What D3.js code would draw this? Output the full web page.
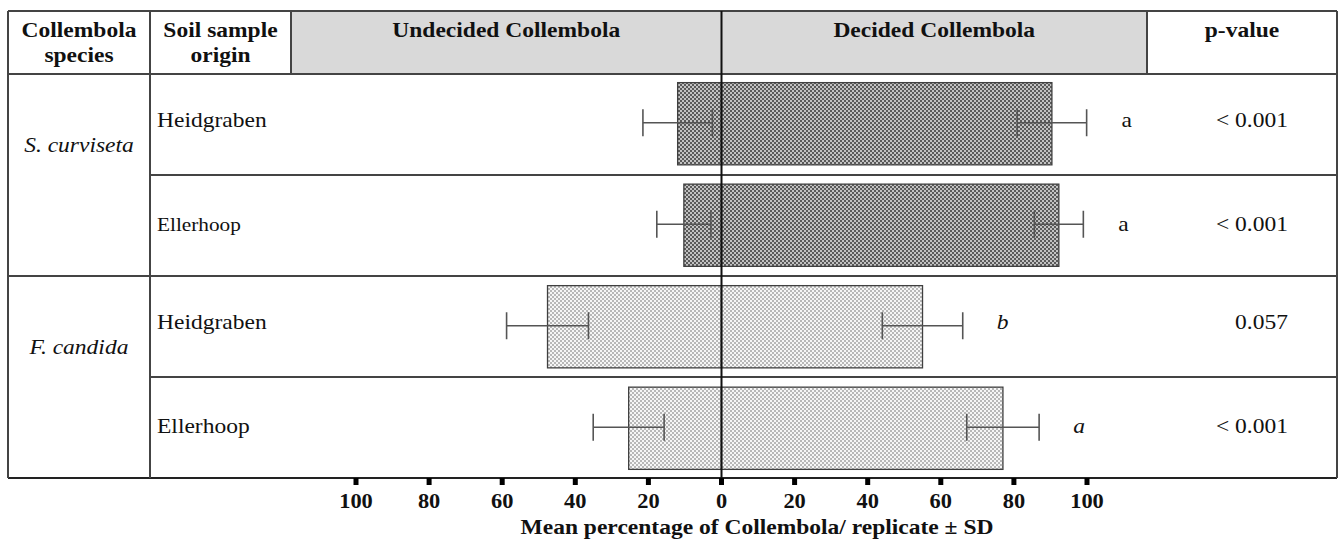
<!DOCTYPE html>
<html>
<head>
<meta charset="utf-8">
<script src="https://cdn.jsdelivr.net/npm/d3@7"></script>
<style>
  html, body { margin: 0; padding: 0; background: #fff; }
  svg { display: block; }
</style>
</head>
<body>
<svg id="chart" width="1338" height="540"></svg>
<script>
// ---------- data ----------
const species = ["S. curviseta", "F. candida"];
const origins = ["Heidgraben", "Ellerhoop", "Heidgraben", "Ellerhoop"];
const rowSpecies = [0, 0, 1, 1];
const undecided = [12.0, 10.3, 47.6, 25.4];
const undecidedSD = [9.5, 7.4, 11.2, 9.7];
const decided = [90.4, 92.3, 55.0, 77.0];
const decidedSD = [9.5, 6.7, 11.0, 9.9];
const letters = ["a", "a", "b", "a"];
const letterItalic = [false, false, true, true];
const pValues = ["< 0.001", "< 0.001", "0.057", "< 0.001"];
const tickValues = [-100, -80, -60, -40, -20, 0, 20, 40, 60, 80, 100];
const headers = {
  species: ["Collembola", "species"],
  origin: ["Soil sample", "origin"],
  undecided: "Undecided Collembola",
  decided: "Decided Collembola",
  p: "p-value"
};
const axisTitle = "Mean percentage of Collembola/ replicate \u00B1 SD";

// ---------- layout ----------
const FONT = "'Liberation Serif', 'Times New Roman', Tinos, 'DejaVu Serif', serif";
const L = 8, C1 = 150, C2 = 291, C3 = 1147, R = 1337;
const TOP = 11, HEAD = 74, BOTTOM = 478;
const SX = 1.12; // horizontal stretch of the original artwork's text

const svg = d3.select("#chart");
const x = d3.scaleLinear().domain([-100, 100]).range([356, 1087]);
const y = d3.scaleBand().domain(d3.range(origins.length)).range([HEAD, BOTTOM]).paddingInner(0.19).paddingOuter(0.085);
const rowBand = d3.scaleBand().domain(d3.range(origins.length)).range([HEAD, BOTTOM]);

// patterns
const defs = svg.append("defs");
function checker(id, light, dark) {
  const p = defs.append("pattern").attr("id", id).attr("patternUnits", "userSpaceOnUse")
    .attr("width", 4).attr("height", 4);
  p.append("rect").attr("width", 4).attr("height", 4).attr("fill", light);
  p.append("rect").attr("width", 2).attr("height", 2).attr("fill", dark);
  p.append("rect").attr("x", 2).attr("y", 2).attr("width", 2).attr("height", 2).attr("fill", dark);
}
checker("darkPat", "#c2c2c2", "#5a5a5a");
checker("lightPat", "#f6f6f6", "#b8b8b8");

function txt(g, s, px, py, opts) {
  opts = opts || {};
  return g.append("text")
    .attr("transform", `translate(${px},${py}) scale(${SX},1)`)
    .attr("text-anchor", opts.anchor || "middle")
    .attr("font-family", FONT)
    .attr("fill", "#111")
    .style("font-family", FONT)
    .style("font-size", (opts.size || 21) + "px")
    .style("font-weight", opts.bold ? "bold" : "normal")
    .style("font-style", opts.italic ? "italic" : "normal")
    .text(s);
}

// header background
svg.append("rect").attr("x", C2).attr("y", TOP).attr("width", C3 - C2).attr("height", HEAD - TOP)
  .attr("fill", "#d9d9d9");

// bars
const bars = svg.append("g");
origins.forEach((o, i) => {
  const pat = rowSpecies[i] === 0 ? "url(#darkPat)" : "url(#lightPat)";
  bars.append("rect")
    .attr("x", x(-undecided[i])).attr("y", y(i))
    .attr("width", x(0) - x(-undecided[i])).attr("height", y.bandwidth())
    .attr("fill", pat).attr("stroke", "#404040").attr("stroke-width", 1.3);
  bars.append("rect")
    .attr("x", x(0)).attr("y", y(i))
    .attr("width", x(decided[i]) - x(0)).attr("height", y.bandwidth())
    .attr("fill", pat).attr("stroke", "#404040").attr("stroke-width", 1.3);
});

// error bars
const err = svg.append("g").attr("stroke", "#555").attr("stroke-width", 1.6).attr("fill", "none");
const capH = 27;
function errorBar(v, sd, cy) {
  const a = x(v - sd), b = x(v + sd);
  err.append("line").attr("x1", a).attr("x2", b).attr("y1", cy).attr("y2", cy);
  err.append("line").attr("x1", a).attr("x2", a).attr("y1", cy - capH / 2).attr("y2", cy + capH / 2);
  err.append("line").attr("x1", b).attr("x2", b).attr("y1", cy - capH / 2).attr("y2", cy + capH / 2);
}
origins.forEach((o, i) => {
  const cy = y(i) + y.bandwidth() / 2 - 1;
  errorBar(-undecided[i], -undecidedSD[i], cy);
  errorBar(decided[i], decidedSD[i], cy);
});

// grid lines of the table
const grid = svg.append("g").attr("stroke", "#444").attr("stroke-width", 2);
grid.append("line").attr("x1", L).attr("x2", R).attr("y1", TOP).attr("y2", TOP);
grid.append("line").attr("x1", L).attr("x2", R).attr("y1", HEAD).attr("y2", HEAD);
origins.forEach((o, i) => {
  if (i === 0) return;
  const yy = rowBand(i);
  const newSpecies = rowSpecies[i] !== rowSpecies[i - 1];
  grid.append("line").attr("x1", newSpecies ? L : C1).attr("x2", R).attr("y1", yy).attr("y2", yy);
});
grid.append("line").attr("x1", L).attr("x2", R).attr("y1", BOTTOM).attr("y2", BOTTOM).attr("stroke", "#222");
[L, C1, R].forEach(cx => grid.append("line").attr("x1", cx).attr("x2", cx).attr("y1", TOP).attr("y2", BOTTOM));
[C2, C3].forEach(cx => grid.append("line").attr("x1", cx).attr("x2", cx).attr("y1", TOP).attr("y2", HEAD));

// zero line
svg.append("line").attr("x1", x(0)).attr("x2", x(0)).attr("y1", TOP).attr("y2", BOTTOM)
  .attr("stroke", "#111").attr("stroke-width", 2);

// header text
const ht = svg.append("g");
txt(ht, headers.species[0], (L + C1) / 2, 37, { bold: true });
txt(ht, headers.species[1], (L + C1) / 2, 62, { bold: true });
txt(ht, headers.origin[0], (C1 + C2) / 2, 37, { bold: true });
txt(ht, headers.origin[1], (C1 + C2) / 2, 62, { bold: true });
txt(ht, headers.undecided, (C2 + x(0)) / 2, 37, { bold: true });
txt(ht, headers.decided, (x(0) + C3) / 2, 37, { bold: true });
txt(ht, headers.p, (C3 + R) / 2, 37, { bold: true });

// body text
const bt = svg.append("g");
species.forEach((s, k) => {
  const rows = d3.range(origins.length).filter(i => rowSpecies[i] === k);
  const top = rowBand(rows[0]);
  txt(bt, s, (L + C1) / 2, top + 78, { italic: true });
});
const originSize = [21, 19, 21, 21];
origins.forEach((o, i) => {
  const base = rowBand(i) + 53 + (i % 2 === 1 ? 3 : 0);
  txt(bt, o, 157, base, { anchor: "start", size: originSize[i] });
  txt(bt, pValues[i], 1288, base, { anchor: "end" });
  txt(bt, letters[i], x(decided[i] + decidedSD[i]) + 40, base, { italic: letterItalic[i] });
});

// axis
const axisG = svg.append("g").attr("transform", `translate(0,${BOTTOM})`);
axisG.selectAll("line.tick").data(tickValues).join("line").attr("class", "tick")
  .attr("x1", d => x(d)).attr("x2", d => x(d)).attr("y1", 0).attr("y2", 7)
  .attr("stroke", "#000").attr("stroke-width", 5);
axisG.selectAll("text.tl").data(tickValues).join("text").attr("class", "tl")
  .attr("transform", d => `translate(${x(d)},30) scale(${SX},1)`)
  .attr("text-anchor", "middle")
  .attr("fill", "#111")
  .style("font-family", FONT)
  .style("font-size", "20px").style("font-weight", "bold")
  .text(d => d3.format("d")(Math.abs(d)));

txt(svg, axisTitle, 757, 534, { bold: true });
</script>
</body>
</html>
